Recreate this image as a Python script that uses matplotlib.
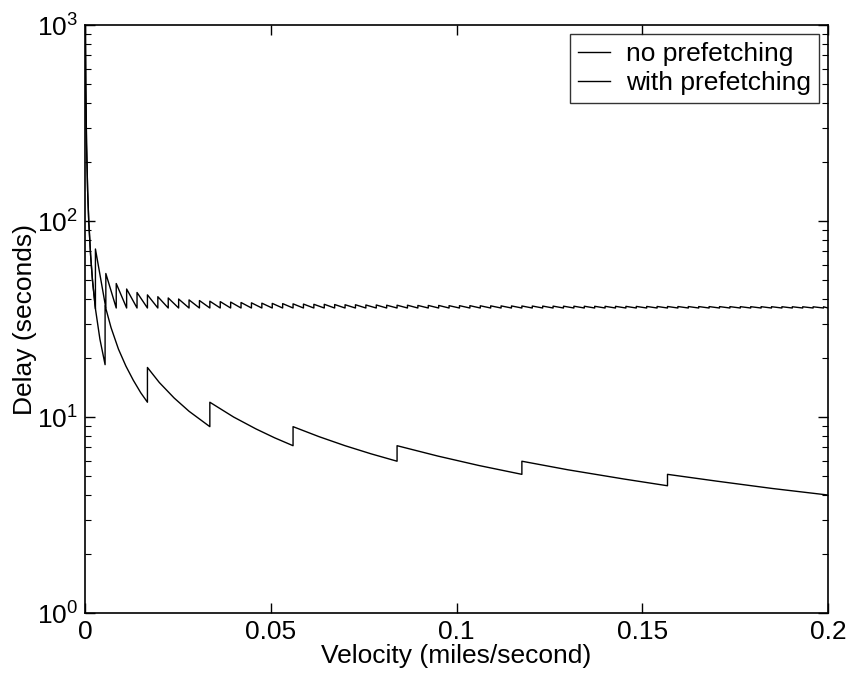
import numpy as np
import matplotlib
matplotlib.use('Agg')
import matplotlib.pyplot as plt

plt.rcParams['font.family'] = ['Liberation Sans', 'DejaVu Sans']
plt.rcParams['mathtext.fontset'] = 'custom'
plt.rcParams['mathtext.rm'] = 'Liberation Sans'
plt.rcParams['mathtext.it'] = 'Liberation Sans'

# "no prefetching": sawtooth, tooth period
tooth_period = 0.0028
trough = 36.0
peaks = [72.0, 54.0, 48.0, 45.0, 43.2, 42.0, 41.1, 40.5, 40.0, 39.6,
         39.3, 39.0, 38.8, 38.6, 38.4, 38.25, 38.1, 38.0, 37.9, 37.8,
         37.7, 37.6, 37.6, 37.5, 37.4, 37.4, 37.3, 37.3, 37.2, 37.2,
         37.2, 37.1, 37.1, 37.1, 37.0, 37.0, 37.0, 36.95, 36.92, 36.9,
         36.88, 36.86, 36.84, 36.82, 36.8, 36.78, 36.77, 36.75, 36.73, 36.72,
         36.71, 36.7, 36.68, 36.67, 36.66, 36.65, 36.63, 36.62, 36.61, 36.6,
         36.59, 36.58, 36.57, 36.56, 36.56, 36.55, 36.54, 36.53, 36.52, 36.51,
         36.51]

# initial decay shared by both curves (before the first jump)
start_x = [0.00005, 0.0001, 0.0002, 0.0004, 0.0007, 0.001, 0.0015, 0.002, 0.0028]
start_y = [2000, 1000, 500, 250, 143, 100, 67, 50, 35.7]

# "with prefetching": decaying segments with upward jumps
with_x = [0.0028, 0.004, 0.0054,
          0.0054, 0.007, 0.009, 0.011, 0.013, 0.015, 0.0168,
          0.0168, 0.020, 0.024, 0.028, 0.0336,
          0.0336, 0.040, 0.046, 0.051, 0.056,
          0.056, 0.063, 0.070, 0.077, 0.084,
          0.084, 0.095, 0.106, 0.1176,
          0.1176, 0.130, 0.145, 0.1568,
          0.1568, 0.170, 0.185, 0.2]
with_y = [35.7, 25.0, 18.5,
          37.0, 28.6, 22.2, 18.2, 15.4, 13.3, 11.9,
          17.9, 15.0, 12.5, 10.7, 8.93,
          11.9, 10.0, 8.7, 7.84, 7.14,
          8.93, 7.94, 7.14, 6.49, 5.95,
          7.14, 6.32, 5.66, 5.10,
          5.95, 5.38, 4.83, 4.46,
          5.10, 4.71, 4.32, 4.0]

# build the sawtooth polyline from peaks and troughs
no_x = list(start_x)
no_y = list(start_y)
for i, p in enumerate(peaks):
    x0 = tooth_period * (i + 1)
    no_x += [x0, min(x0 + tooth_period, 0.2)]
    no_y += [p, trough]

lo_x = start_x + with_x[1:]
lo_y = start_y + with_y[1:]

fig = plt.figure(figsize=(8.52, 6.77), dpi=100)
ax = fig.add_axes([0.0998, 0.0945, 0.872, 0.8685])

ax.semilogy(no_x, no_y, color='black', lw=1.0, label='no prefetching')
ax.semilogy(lo_x, lo_y, color='black', lw=1.0, label='with prefetching')

ax.set_xlim(0, 0.2)
ax.set_ylim(1, 1000)
ax.set_xticks([0, 0.05, 0.1, 0.15, 0.2])
ax.set_xticklabels(['0', '0.05', '0.1', '0.15', '0.2'])
ax.set_yticks([1, 10, 100, 1000])
ax.set_yticklabels([r'$10^{0}$', r'$10^{1}$', r'$10^{2}$', r'$10^{3}$'])

ax.tick_params(which='both', direction='in', top=True, right=True, labelsize=19, pad=5)
ax.tick_params(which='major', length=7, width=1)
ax.tick_params(which='minor', length=4, width=0.8)
for s in ax.spines.values():
    s.set_linewidth(1.2)

ax.set_xlabel('Velocity (miles/second)', fontsize=19, labelpad=0)
ax.set_ylabel('Delay (seconds)', fontsize=19, labelpad=0)

leg = ax.legend(loc='upper right', fontsize=19, frameon=True, fancybox=False,
                handlelength=1.2, handletextpad=0.6, borderpad=0.3,
                labelspacing=0.2, borderaxespad=0.35)
leg.get_frame().set_edgecolor('black')
leg.get_frame().set_linewidth(1.0)

fig.savefig('out.png', dpi=100)
